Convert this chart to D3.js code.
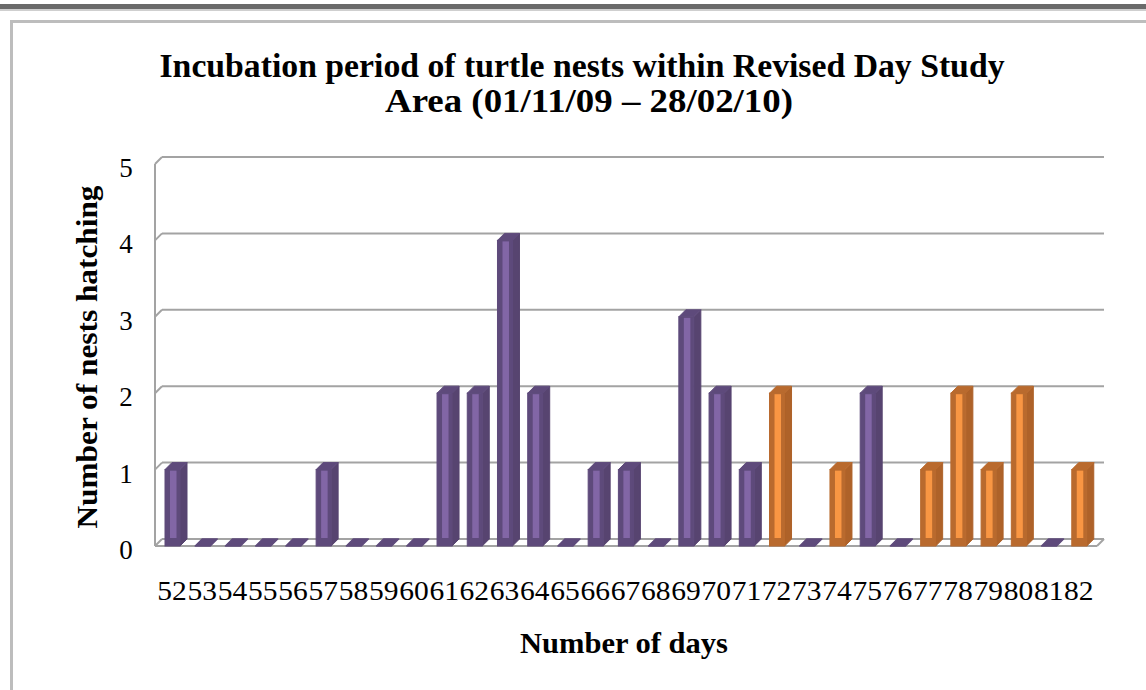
<!DOCTYPE html>
<html><head><meta charset="utf-8">
<script src="https://cdn.jsdelivr.net/npm/d3@7"></script>
<style>html,body{margin:0;padding:0;background:#fff;}svg{display:block;}</style>
</head><body>
<script>
// ---- data ----
const days = [52,53,54,55,56,57,58,59,60,61,62,63,64,65,66,67,68,69,70,71,72,73,74,75,76,77,78,79,80,81,82];
const nests = [1,0,0,0,0,1,0,0,0,2,2,4,2,0,1,1,0,3,2,1,2,0,1,2,0,1,2,1,2,0,1];
const barGroup = ["p","p","p","p","p","p","p","p","p","p","p","p","p","p","p","p","p","p","p","p","o","p","o","p","p","o","o","o","o","p","o"];
const yTicks = [0,1,2,3,4,5];
const titleLines = ["Incubation period of turtle nests within Revised Day Study", "Area (01/11/09 \u2013 28/02/10)"];
const xTitle = "Number of days";
const yTitle = "Number of nests hatching";

const W = 1146, H = 690;
const colors = {
  p: {light: "#8266A6", dark: "#5E4A7B", side: "#574470"},
  o: {light: "#F99643", dark: "#B96A2E", side: "#AE6229"}
};
const DX = 7, DY = 7;           // 3-D depth offset
const FRONT_W = 15;              // bar front face width

const svg = d3.select("body").append("svg").attr("width", W).attr("height", H);
svg.append("rect").attr("width", W).attr("height", H).attr("fill", "#fff");

// window chrome
svg.append("rect").attr("x", 0).attr("y", 4).attr("width", W).attr("height", 5).attr("fill", "#6a6a6a");
svg.append("rect").attr("x", 0).attr("y", 9).attr("width", W).attr("height", 2).attr("fill", "#cfcfcf");
svg.append("path").attr("d", `M11.5,${H} V21.5 H${W}`).attr("fill", "none").attr("stroke", "#bdbdbd").attr("stroke-width", 3);

// scales
const x = d3.scaleBand().domain(days).range([156, 1093]).paddingInner(0).paddingOuter(0);
const yBack = d3.scaleLinear().domain([0, 5]).range([539, 157]);
const xFrontL = 155, xFrontR = 1097;

// gridlines / walls
const grid = svg.append("g").attr("stroke", "#a3a3a3").attr("stroke-width", 2).attr("fill", "none");
yTicks.forEach(v => {
  const yb = yBack(v);
  grid.append("line").attr("x1", xFrontL + DX).attr("x2", xFrontR + DX).attr("y1", yb).attr("y2", yb);
  grid.append("line").attr("x1", xFrontL).attr("y1", yb + DY).attr("x2", xFrontL + DX).attr("y2", yb);
});
grid.append("line").attr("x1", xFrontL).attr("x2", xFrontL).attr("y1", yBack(5) + DY).attr("y2", yBack(0) + DY);
grid.append("line").attr("x1", xFrontL).attr("x2", xFrontR).attr("y1", yBack(0) + DY).attr("y2", yBack(0) + DY);
grid.append("line").attr("x1", xFrontR).attr("y1", yBack(0) + DY).attr("x2", xFrontR + DX).attr("y2", yBack(0));

// bars
const bars = svg.append("g");
days.forEach((d, i) => {
  const v = nests[i];
  const c = colors[barGroup[i]];
  const x0 = x(d) + 9;
  const yFT = yBack(v) + DY;        // front top
  const yFB = yBack(0) + DY;        // front bottom
  const g = bars.append("g");
  if (v > 0) {
    g.append("path")
      .attr("d", `M${x0+FRONT_W},${yFT} L${x0+FRONT_W+DX},${yFT-DY} L${x0+FRONT_W+DX},${yFB-DY} L${x0+FRONT_W},${yFB} Z`)
      .attr("fill", c.side).attr("stroke", c.side).attr("stroke-width", 1).attr("stroke-linejoin", "round");
    g.append("rect").attr("x", x0).attr("y", yFT).attr("width", FRONT_W).attr("height", yFB - yFT)
      .attr("fill", c.dark).attr("stroke", c.dark).attr("stroke-width", 1);
    g.append("rect").attr("x", x0 + 5).attr("y", yFT + 1).attr("width", 6.5).attr("height", yFB - yFT - 9)
      .attr("fill", c.light);
  }
  g.append("path")
    .attr("d", `M${x0},${yFT} L${x0+DX},${yFT-DY} L${x0+FRONT_W+DX},${yFT-DY} L${x0+FRONT_W},${yFT} Z`)
    .attr("fill", c.dark).attr("stroke", c.dark).attr("stroke-width", v > 0 ? 1 : 1.5).attr("stroke-linejoin", "round");
});

// y tick labels
svg.append("g").selectAll("text").data(yTicks).join("text")
  .attr("x", 126).attr("y", v => yBack(v) + DY + 13)
  .attr("text-anchor", "middle")
  .attr("font-family", "Liberation Serif, serif").attr("font-size", 27).attr("fill", "#000")
  .text(v => v);

// x tick labels
svg.append("g").selectAll("text").data(days).join("text")
  .attr("x", d => x(d) + x.bandwidth() / 2 + 1).attr("y", 600)
  .attr("text-anchor", "middle")
  .attr("font-family", "Liberation Serif, serif").attr("font-size", 27).attr("fill", "#000")
  .attr("textLength", 29.5).attr("lengthAdjust", "spacingAndGlyphs")
  .text(d => d);

// titles
svg.append("text").attr("x", 582).attr("y", 77).attr("text-anchor", "middle")
  .attr("font-family", "Liberation Serif, serif").attr("font-weight", "bold").attr("font-size", 34)
  .attr("textLength", 845).attr("lengthAdjust", "spacingAndGlyphs").text(titleLines[0]);
svg.append("text").attr("x", 589).attr("y", 112).attr("text-anchor", "middle")
  .attr("font-family", "Liberation Serif, serif").attr("font-weight", "bold").attr("font-size", 34)
  .attr("textLength", 408).attr("lengthAdjust", "spacingAndGlyphs").text(titleLines[1]);

svg.append("text").attr("x", 624).attr("y", 653).attr("text-anchor", "middle")
  .attr("font-family", "Liberation Serif, serif").attr("font-weight", "bold").attr("font-size", 29)
  .attr("textLength", 208).attr("lengthAdjust", "spacingAndGlyphs").text(xTitle);

svg.append("text").attr("transform", "translate(97,357) rotate(-90)").attr("text-anchor", "middle")
  .attr("font-family", "Liberation Serif, serif").attr("font-weight", "bold").attr("font-size", 29)
  .attr("textLength", 343).attr("lengthAdjust", "spacingAndGlyphs").text(yTitle);
</script>
</body></html>
